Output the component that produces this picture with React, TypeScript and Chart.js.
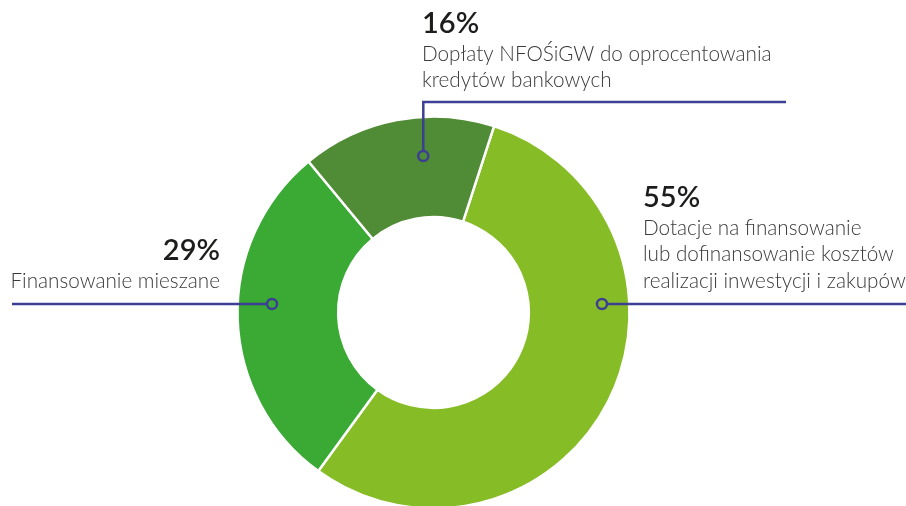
import React, { useEffect, useRef } from "react";
import { Chart, registerables } from "chart.js";

Chart.register(...registerables);

const categories = [
  "Dotacje na finansowanie lub dofinansowanie kosztów realizacji inwestycji i zakupów",
  "Finansowanie mieszane",
  "Dopłaty NFOŚiGW do oprocentowania kredytów bankowych",
];
const shares = [55, 29, 16];
const percentLabels = ["55%", "29%", "16%"];
const labelLines = [
  ["Dotacje na finansowanie", "lub dofinansowanie kosztów", "realizacji inwestycji i zakupów"],
  ["Finansowanie mieszane"],
  ["Dopłaty NFOŚiGW do oprocentowania", "kredytów bankowych"],
];
const colors = ["#86bc25", "#3aaa35", "#508b35"];

const LEADER = "#3d3f95";
const FONT = "Lato, 'Open Sans', sans-serif";

const leaderPlugin = {
  id: "leaders",
  afterDraw(chart: any) {
    const ctx = chart.ctx as CanvasRenderingContext2D;
    const arc = chart.getDatasetMeta(0).data[0];
    const cx = arc.x;
    const cy = arc.y;
    ctx.save();
    ctx.strokeStyle = LEADER;
    ctx.lineWidth = 2.5;
    ctx.lineCap = "butt";
    const circle = (x: number, y: number) => {
      ctx.beginPath();
      ctx.arc(x, y, 5, 0, Math.PI * 2);
      ctx.stroke();
    };
    // 55%
    const m0 = { x: cx + 168.5, y: cy - 8.5 };
    ctx.beginPath();
    ctx.moveTo(m0.x + 5, m0.y);
    ctx.lineTo(chart.width, m0.y);
    ctx.stroke();
    circle(m0.x, m0.y);
    // 29%
    const m1 = { x: cx - 161.5, y: cy - 8.5 };
    ctx.beginPath();
    ctx.moveTo(12, m1.y);
    ctx.lineTo(m1.x - 5, m1.y);
    ctx.stroke();
    circle(m1.x, m1.y);
    // 16%
    const m2 = { x: cx - 10.2, y: cy - 156.5 };
    ctx.beginPath();
    ctx.moveTo(m2.x, m2.y - 5);
    ctx.lineTo(m2.x, 102);
    ctx.lineTo(786, 102);
    ctx.stroke();
    circle(m2.x, m2.y);

    // texts
    ctx.textBaseline = "alphabetic";
    const drawBlock = (i: number, x: number, pctBase: number, align: CanvasTextAlign) => {
      ctx.textAlign = align;
      ctx.fillStyle = "#1d1d1b";
      ctx.font = `600 29px ${FONT}`;
      ctx.fillText(percentLabels[i], x, pctBase);
      ctx.fillStyle = "#3a3a3a";
      ctx.font = `300 20.7px ${FONT}`;
      labelLines[i].forEach((line, k) => {
        ctx.fillText(line, x, pctBase + 27.5 + k * 26.5);
      });
    };
    drawBlock(0, 643, 207, "left");
    drawBlock(1, 220, 260, "right");
    drawBlock(2, 422, 33, "left");
    ctx.restore();
  },
};

export default function App() {
  const ref = useRef<HTMLCanvasElement | null>(null);
  useEffect(() => {
    document.body.style.margin = "0";
    document.body.style.overflow = "hidden";
    const chart = new Chart(ref.current as HTMLCanvasElement, {
      type: "doughnut",
      data: {
        labels: categories,
        datasets: [
          {
            data: shares,
            backgroundColor: colors,
            borderColor: "#ffffff",
            borderWidth: 2.5,
            hoverOffset: 0,
          },
        ],
      },
      options: {
        responsive: false,
        animation: false,
        rotation: 18,
        radius: 196,
        cutout: 95,
        layout: { padding: { top: 116, bottom: 31, left: 237, right: 276 } },
        plugins: { legend: { display: false }, tooltip: { enabled: false } },
      },
      plugins: [leaderPlugin],
    });
    return () => chart.destroy();
  }, []);
  return (
    <div style={{ position: "absolute", left: 0, top: 0, width: 906, height: 506, overflow: "hidden" }}>
      <canvas ref={ref} width={906} height={540} style={{ width: 906, height: 540, display: "block" }} />
    </div>
  );
}
